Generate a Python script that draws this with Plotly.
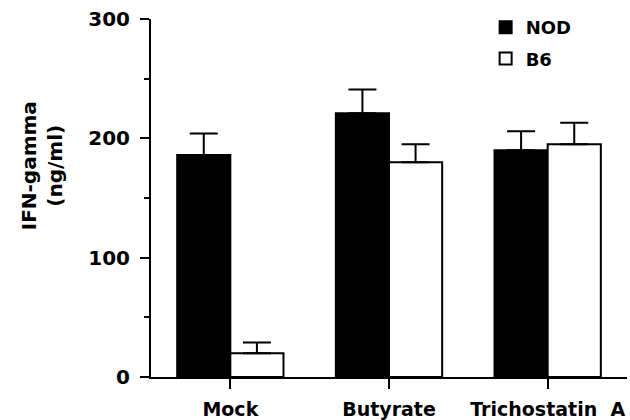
import plotly.graph_objects as go

categories = ["Mock", "Butyrate", "Trichostatin  A"]
nod_values = [186, 221, 190]
nod_err = [18, 20, 16]
b6_values = [20, 180, 195]
b6_err = [9, 15, 18]
y_ticks = [0, 100, 200, 300]

FONT = "DejaVu Sans"

fig = go.Figure()
fig.add_trace(go.Bar(
    name="NOD", x=categories, y=nod_values, legendgroup="nod",
    marker=dict(color="black", line=dict(color="black", width=2)),
    error_y=dict(type="data", array=nod_err, arrayminus=[0]*3, symmetric=False,
                 color="black", thickness=2, width=14),
))
fig.add_trace(go.Bar(
    name="B6", x=categories, y=b6_values, legendgroup="b6",
    marker=dict(color="white", line=dict(color="black", width=2)),
    error_y=dict(type="data", array=b6_err, arrayminus=[0]*3, symmetric=False,
                 color="black", thickness=2, width=14),
))

fig.update_layout(
    width=630, height=420,
    margin=dict(l=151, r=3, t=19, b=43, autoexpand=False),
    plot_bgcolor="white", paper_bgcolor="white",
    barmode="group", bargap=0.33, bargroupgap=0,
    font=dict(family=FONT, color="black"),
    showlegend=True,
    legend=dict(x=0.703, y=1.028, xanchor="left", yanchor="top",
                font=dict(size=18, family=FONT, weight="bold"),
                bgcolor="rgba(0,0,0,0)", itemwidth=30,
                traceorder="grouped", tracegroupgap=5),
    annotations=[dict(
        text="<b>IFN-gamma<br>(ng/ml)</b>", textangle=-90,
        xref="paper", yref="paper", x=-0.23, y=0.59,
        xanchor="center", yanchor="middle", showarrow=False,
        font=dict(size=20, family=FONT, color="black"),
    )],
)
fig.update_xaxes(
    range=[-0.5, 2.5], showline=True, linecolor="black", linewidth=2,
    ticks="outside", ticklen=10, tickwidth=2, tickcolor="black",
    tickfont=dict(size=19, family=FONT, weight="bold"),
    ticklabelstandoff=4, showgrid=False, zeroline=False, automargin=False,
)
fig.update_yaxes(
    range=[0, 300], tickvals=y_ticks, showline=True, linecolor="black", linewidth=2,
    ticks="outside", ticklen=9, tickwidth=2, tickcolor="black",
    minor=dict(dtick=50, ticks="outside", ticklen=5, tickwidth=2, tickcolor="black", showgrid=False),
    tickfont=dict(size=20, family=FONT, weight="bold"),
    ticklabelstandoff=6, showgrid=False, zeroline=False, automargin=False,
)

fig.write_html("out.html", config={"displayModeBar": False},
               post_script="document.body.style.margin='0';")
